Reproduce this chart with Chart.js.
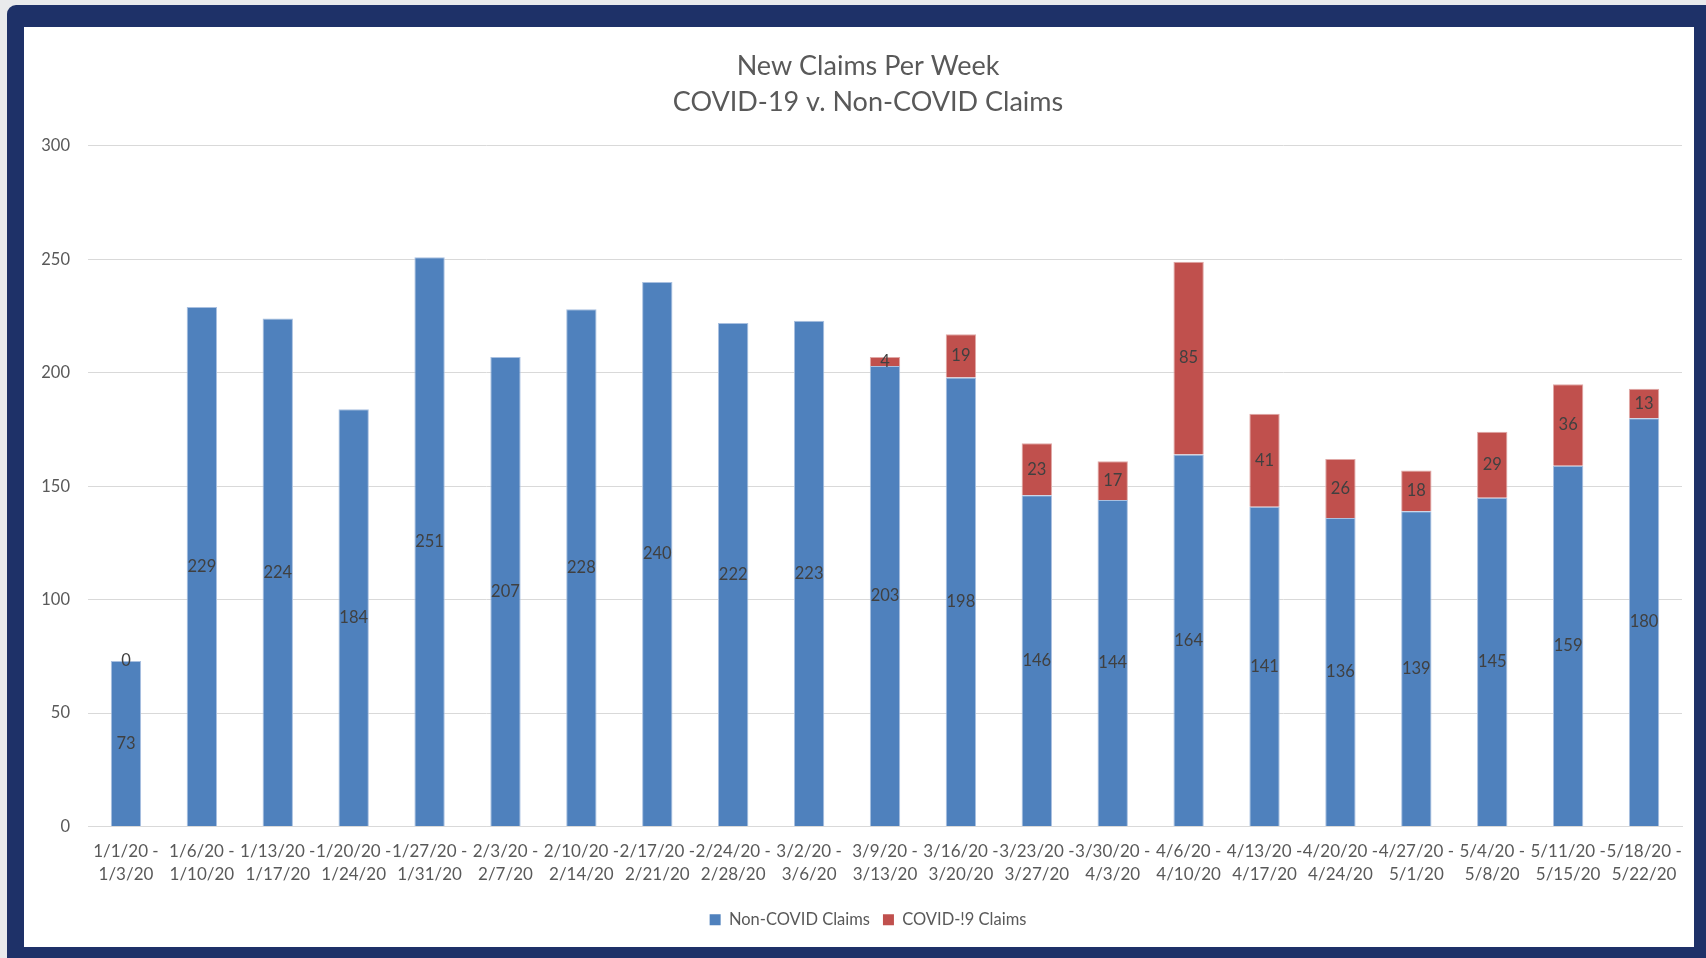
<!DOCTYPE html>
<html>
<head>
<meta charset="utf-8">
<script src="https://cdn.jsdelivr.net/npm/chart.js@4.4.1/dist/chart.umd.min.js"></script>
<style>
  html, body { margin:0; padding:0; width:1706px; height:958px; overflow:hidden; background:#e9eaec; }
  #frame { position:absolute; left:7px; top:5px; width:1699px; height:953px; background:#1e3168; border-radius:9px 0 0 0; }
  #inner { position:absolute; left:24px; top:27px; width:1670px; height:920px; background:#ffffff; overflow:hidden; }
  #inner canvas { position:absolute; left:0; top:0; }
</style>
</head>
<body>
<div id="frame"></div>
<div id="inner"><canvas id="c" width="1688" height="920"></canvas></div>
<script>
const categories = [
  ["1/1/20 -","1/3/20"],["1/6/20 -","1/10/20"],["1/13/20 -","1/17/20"],["1/20/20 -","1/24/20"],
  ["1/27/20 -","1/31/20"],["2/3/20 -","2/7/20"],["2/10/20 -","2/14/20"],["2/17/20 -","2/21/20"],
  ["2/24/20 -","2/28/20"],["3/2/20 -","3/6/20"],["3/9/20 -","3/13/20"],["3/16/20 -","3/20/20"],
  ["3/23/20 -","3/27/20"],["3/30/20 -","4/3/20"],["4/6/20 -","4/10/20"],["4/13/20 -","4/17/20"],
  ["4/20/20 -","4/24/20"],["4/27/20 -","5/1/20"],["5/4/20 -","5/8/20"],["5/11/20 -","5/15/20"],
  ["5/18/20 -","5/22/20"]
];
const nonCovid = [73,229,224,184,251,207,228,240,222,223,203,198,146,144,164,141,136,139,145,159,180];
const covid = [0,null,null,null,null,null,null,null,null,null,4,19,23,17,85,41,26,18,29,36,13];
const yTicks = [0,50,100,150,200,250,300];

const FONT = "Lato, 'Open Sans', sans-serif";

const labelPlugin = {
  id: 'barLabels',
  afterDatasetsDraw(chart) {
    const ctx = chart.ctx;
    ctx.save();
    ctx.font = "16.5px " + FONT;
    ctx.fillStyle = "#404040";
    ctx.textAlign = "center";
    ctx.textBaseline = "middle";
    chart.data.datasets.forEach((ds, di) => {
      const meta = chart.getDatasetMeta(di);
      meta.data.forEach((el, i) => {
        const v = ds.data[i];
        if (v === null || v === undefined) return;
        const p = el.getProps(['x','y','base'], true);
        ctx.fillText(String(v), p.x, (p.y + p.base) / 2);
      });
    });
    ctx.restore();
  }
};

new Chart(document.getElementById('c'), {
  type: 'bar',
  data: {
    labels: categories,
    datasets: [
      { label: 'Non-COVID Claims', data: nonCovid, backgroundColor: '#4f81bd', borderColor: '#a9c0e0', borderWidth: 1 },
      { label: 'COVID-!9 Claims', data: covid, backgroundColor: '#c0504d', borderColor: '#e0a8a6', borderWidth: 1 }
    ]
  },
  options: {
    responsive: false,
    animation: false,
    layout: { padding: { left: 0, right: 0, top: 0, bottom: 9 } },
    datasets: { bar: { categoryPercentage: 1.0, barPercentage: 0.4 } },
    plugins: {
      title: {
        display: true,
        text: ['New Claims Per Week', 'COVID-19 v. Non-COVID Claims'],
        color: '#595959',
        font: { family: FONT, size: 27, weight: 'normal', lineHeight: 1.333 },
        padding: { top: 21, bottom: 26 }
      },
      legend: {
        position: 'bottom',
        labels: {
          color: '#595959',
          font: { family: FONT, size: 16.5 },
          boxWidth: 11, boxHeight: 11, padding: 13,
          generateLabels(chart) {
            return chart.data.datasets.map((ds, i) => ({
              text: ds.label, fillStyle: ds.backgroundColor, strokeStyle: ds.backgroundColor,
              lineWidth: 0, hidden: false, datasetIndex: i, fontColor: '#595959'
            }));
          }
        }
      },
      tooltip: { enabled: false }
    },
    scales: {
      x: {
        stacked: true,
        grid: { display: false, drawTicks: false },
        border: { display: true, color: '#d9d9d9', width: 1 },
        ticks: {
          color: '#595959', font: { family: FONT, size: 17, lineHeight: 1.35 },
          maxRotation: 0, minRotation: 0, autoSkip: false, padding: 13
        }
      },
      y: {
        stacked: true,
        min: 0, max: 300,
        afterBuildTicks(scale) { scale.ticks = yTicks.map(v => ({ value: v })); },
        afterFit(scale) { scale.width = 64; },
        grid: { color: '#d9d9d9', drawTicks: false },
        border: { display: false },
        ticks: { color: '#595959', font: { family: FONT, size: 16.5 }, padding: 18 }
      },
      yPad: {
        type: 'linear',
        position: 'right',
        display: true,
        afterFit(scale) { scale.width = 30; },
        grid: { display: false, drawTicks: false },
        border: { display: false },
        ticks: { display: false }
      }
    }
  },
  plugins: [labelPlugin]
});
</script>
</body>
</html>
